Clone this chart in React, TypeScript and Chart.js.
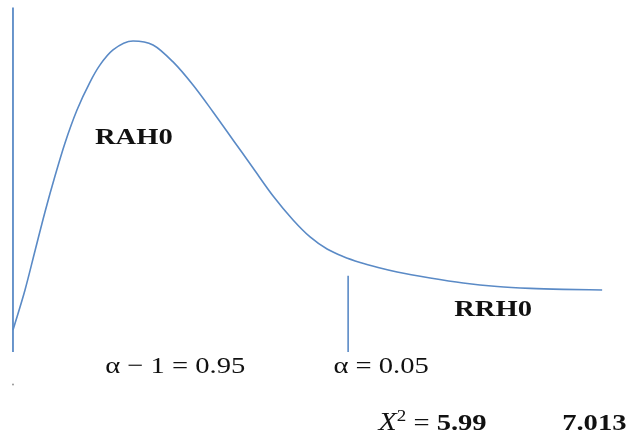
import React, { useEffect, useRef } from "react";
import { Chart, registerables } from "chart.js";

Chart.register(...registerables);

// Chi-square density curve (x in chi-square units, y in density units)
const curveX = [0, 0.215, 0.393, 0.572, 0.751, 0.93, 1.144, 1.377, 1.556, 1.788, 2.146, 2.503, 2.861, 3.218, 3.576, 3.933, 4.291, 4.649, 5.006, 5.31, 5.614, 5.9, 6.204, 6.526, 6.866, 7.456, 8.046, 8.654, 9.244, 9.834, 10.53];
const curveY = [0.0176, 0.0497, 0.0809, 0.1122, 0.141, 0.1675, 0.1939, 0.2163, 0.23, 0.242, 0.2492, 0.246, 0.2324, 0.2139, 0.1923, 0.1699, 0.1474, 0.125, 0.1058, 0.0922, 0.0825, 0.0765, 0.0717, 0.0677, 0.0641, 0.0593, 0.0553, 0.0525, 0.051, 0.0502, 0.0497];

// Vertical axis line and critical value line
const axisX = [0, 0];
const axisY = [0, 0.276];
const criticalValue = 5.99;
const criticalY = [0, 0.061];
const dotPoint = [0, -0.026];

// Text labels (positions in data units)
const labelTexts = ["RAH0", "RRH0", "α − 1 = 0.95", "α = 0.05"];
const labelX = [2.16, 8.58, 2.9, 6.58];
const labelY = [0.172, 0.034, -0.012, -0.012];
const labelBold = [true, true, false, false];
const chiLabelX = 7.5;
const chiValue = "5.99";
const observedValue = "7.013";
const observedX = 10.39;
const bottomY = -0.0575;

const X_MIN = -0.232;
const X_MAX = 11.01;
const Y_MIN = -0.0689;
const Y_MAX = 0.282;

const BLUE = "#5a8ac6";
const FONT = "'Liberation Serif', 'Times New Roman', serif";
const SX = 1.19;

const textPlugin = {
  id: "textLabels",
  afterDatasetsDraw(chart: any) {
    const ctx = chart.ctx as CanvasRenderingContext2D;
    const xs = chart.scales.x;
    const ys = chart.scales.y;
    ctx.save();
    ctx.fillStyle = "#111";
    ctx.textBaseline = "middle";
    const drawScaled = (text: string, font: string, cx: number, cy: number, align: "center" | "left") => {
      ctx.font = font;
      const w = ctx.measureText(text).width * SX;
      ctx.save();
      const left = align === "center" ? cx - w / 2 : cx;
      ctx.translate(left, cy);
      ctx.scale(SX, 1);
      ctx.textAlign = "left";
      ctx.fillText(text, 0, 0);
      ctx.restore();
      return w;
    };
    labelTexts.forEach((t, i) => {
      const px = xs.getPixelForValue(labelX[i]);
      const py = ys.getPixelForValue(labelY[i]);
      drawScaled(t, `${labelBold[i] ? "bold " : ""}24px ${FONT}`, px, py, "center");
    });
    // X^2 = 5.99
    const parts: [string, string, number][] = [
      ["X", `italic 25px ${FONT}`, 0],
      ["2", `16px ${FONT}`, -7],
      [" = ", `24px ${FONT}`, 0],
      [chiValue, `bold 24px ${FONT}`, 0],
    ];
    let total = 0;
    parts.forEach(([t, f]) => {
      ctx.font = f;
      total += ctx.measureText(t).width * SX;
    });
    let cx = xs.getPixelForValue(chiLabelX) - total / 2;
    const by = ys.getPixelForValue(bottomY);
    parts.forEach(([t, f, dy]) => {
      cx += drawScaled(t, f, cx, by + dy, "left");
    });
    drawScaled(observedValue, `bold 24px ${FONT}`, xs.getPixelForValue(observedX), by, "center");
    ctx.restore();
  },
};

export default function App() {
  const ref = useRef<HTMLCanvasElement | null>(null);
  useEffect(() => {
    if (!ref.current) return;
    const chart = new Chart(ref.current, {
      type: "scatter",
      data: {
        datasets: [
          {
            data: curveX.map((x, i) => ({ x, y: curveY[i] })),
            showLine: true,
            borderColor: BLUE,
            borderWidth: 1.6,
            pointRadius: 0,
            cubicInterpolationMode: "monotone",
          },
          {
            data: axisX.map((x, i) => ({ x, y: axisY[i] })),
            showLine: true,
            borderColor: BLUE,
            borderWidth: 1.8,
            pointRadius: 0,
          },
          {
            data: criticalY.map((y) => ({ x: criticalValue, y })),
            showLine: true,
            borderColor: BLUE,
            borderWidth: 1.6,
            pointRadius: 0,
          },
          {
            data: [{ x: dotPoint[0], y: dotPoint[1] }],
            showLine: false,
            pointRadius: 1,
            backgroundColor: "#999",
            borderWidth: 0,
          },
        ],
      },
      options: {
        responsive: false,
        animation: false,
        layout: { padding: 0, autoPadding: false },
        plugins: { legend: { display: false }, tooltip: { enabled: false } },
        scales: {
          x: { type: "linear", min: X_MIN, max: X_MAX, display: false },
          y: { type: "linear", min: Y_MIN, max: Y_MAX, display: false },
        },
      },
      plugins: [textPlugin],
    });
    return () => chart.destroy();
  }, []);
  return (
    <div style={{ position: "fixed", left: 0, top: 0, width: 629, height: 438, background: "#fff" }}>
      <canvas ref={ref} width={629} height={438} />
    </div>
  );
}
